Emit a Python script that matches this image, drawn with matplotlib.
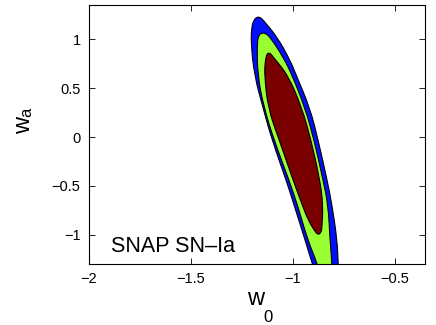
import numpy as np
import matplotlib
matplotlib.use("Agg")
import matplotlib.pyplot as plt
from matplotlib.path import Path
from matplotlib.patches import PathPatch

plt.rcParams['font.family'] = ['Liberation Sans', 'DejaVu Sans']

# contour boundaries (w0, wa)
# outer (blue) region
blue_w0 = [-1.176, -1.160, -1.147, -1.078, -1.015, -0.985, -0.917, -0.877, -0.833,
           -0.809, -0.784, -0.779, -0.775,
           -0.877, -0.907, -0.941, -0.995, -1.034, -1.103, -1.147, -1.190, -1.206,
           -1.203, -1.192]
blue_wa = [1.231, 1.225, 1.200, 1.026, 0.790, 0.636, 0.297, -0.031, -0.441,
           -0.697, -1.056, -1.292, -1.470,
           -1.470, -1.292, -1.056, -0.697, -0.441, -0.031, 0.297, 0.636, 0.964,
           1.128, 1.200]

# middle (green) region
green_w0 = [-1.152, -1.135, -1.113, -1.049, -1.005, -0.941, -0.897, -0.853,
            -0.828, -0.819, -0.809, -0.810,
            -0.858, -0.882, -0.928, -0.978, -1.020, -1.093, -1.142, -1.174,
            -1.176, -1.168]
green_wa = [1.067, 1.062, 1.026, 0.821, 0.636, 0.297, -0.031, -0.441,
            -0.697, -1.056, -1.292, -1.470,
            -1.470, -1.292, -1.056, -0.697, -0.441, -0.031, 0.297, 0.636,
            0.964, 1.045]

# inner (dark red) region
red_w0 = [-1.123, -1.110, -1.098, -1.025, -0.956, -0.912, -0.868, -0.853,
          -0.858, -0.862, -0.877, -0.895, -0.926, -0.955, -1.000, -1.068,
          -1.123, -1.140, -1.137, -1.131]
red_wa = [0.862, 0.856, 0.821, 0.636, 0.297, -0.031, -0.441, -0.697,
          -0.923, -0.975, -1.005, -0.960, -0.851, -0.697, -0.441, -0.031,
          0.297, 0.636, 0.759, 0.835]

xticks = [-2, -1.5, -1, -0.5]
yticks = [-1, -0.5, 0, 0.5, 1]


def smooth_region(ax, xs, ys, fc, z):
    # closed outline drawn with quadratic curves through edge midpoints
    pts = np.column_stack([xs, ys])
    mids = (pts + np.roll(pts, -1, axis=0)) / 2
    verts = [mids[-1]]
    codes = [Path.MOVETO]
    for i in range(len(pts)):
        verts += [pts[i], mids[i]]
        codes += [Path.CURVE3, Path.CURVE3]
    patch = PathPatch(Path(verts, codes), fc=fc, ec='black', lw=0.8, zorder=z)
    ax.add_patch(patch)


fig = plt.figure(figsize=(4.36, 3.25), dpi=100)
ax = fig.add_axes([0.204, 0.188, 0.771, 0.797])

smooth_region(ax, blue_w0, blue_wa, '#0010ff', 1)
smooth_region(ax, green_w0, green_wa, '#99ff33', 2)
smooth_region(ax, red_w0, red_wa, '#7a0000', 3)

ax.set_xlim(-2, -0.353)
ax.set_ylim(-1.30, 1.354)
ax.set_xticks(xticks)
ax.set_xticklabels(['\u22122', '\u22121.5', '\u22121', '\u22120.5'])
ax.set_yticks(yticks)
ax.set_yticklabels(['\u22121', '\u22120.5', '0', '0.5', '1'])
ax.tick_params(direction='in', top=True, right=True, length=4, width=0.6,
               labelsize=10.5, pad=6)
for s in ax.spines.values():
    s.set_linewidth(0.8)

# axis labels: MATLAB-like subscripts
fig.text(256 / 436, 1 - 305 / 325, 'w', fontsize=17, ha='center', va='baseline')
fig.text(263 / 436, 1 - 322 / 325, '0', fontsize=12, ha='left', va='baseline')
fig.text(30 / 436, 1 - 125 / 325, 'w', fontsize=17, rotation=90,
         rotation_mode='anchor', ha='center', va='baseline')
fig.text(31 / 436, 1 - 117 / 325, 'a', fontsize=12, rotation=90,
         rotation_mode='anchor', ha='left', va='baseline')

ax.text(-1.892, -1.18, 'SNAP SN\u2013Ia', fontsize=15.5, ha='left', va='baseline')

fig.savefig('out.png', dpi=100)
